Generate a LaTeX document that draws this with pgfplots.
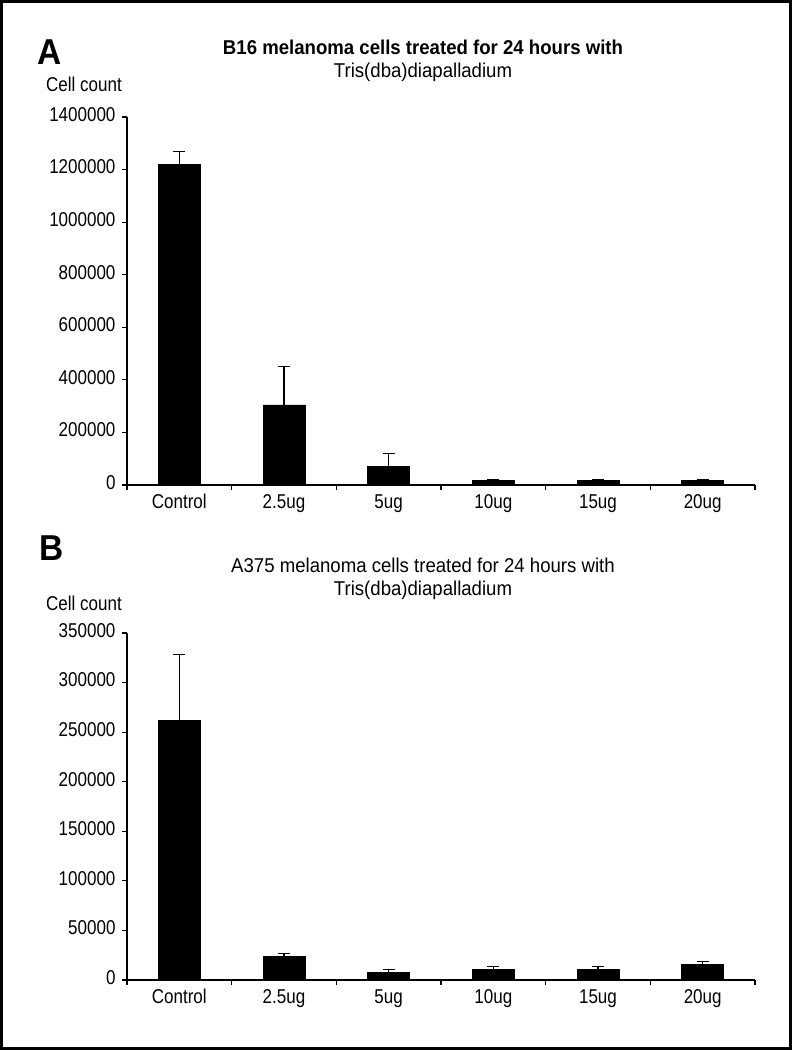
\documentclass[border=0pt]{standalone}
\usepackage{fontspec}
\setmainfont[FakeStretch=0.85]{Liberation Sans}
\newfontfamily\titlefont[FakeStretch=0.93]{Liberation Sans}
\usepackage{pgfplots}
\pgfplotsset{compat=1.18}

% shared look of both panels
\pgfplotsset{cellbars/.style={
  scale only axis, width=628pt,
  xmin=-0.5, xmax=5.5, ymin=0,
  axis lines=left, axis line style={-, line width=1.2pt},
  xtick={-0.5,0.5,...,5.5}, xticklabels={},
  extra x ticks={0,1,2,3,4,5},
  extra x tick labels={Control,2.5ug,5ug,10ug,15ug,20ug},
  extra x tick style={major tick length=0pt,
    xticklabel style={yshift=-5pt}},
  typeset ticklabels with strut,
  tick align=outside, major tick length=5pt,
  tick style={black, line width=1.2pt},
  ybar, bar width=42pt,
  ticklabel style={font=\fontsize{20}{22}\selectfont},
  yticklabel style={xshift=-3pt},
  scaled y ticks=false,
  /pgf/number format/fixed,
  /pgf/number format/1000 sep={},
  /pgf/number format/assume math mode=true,
}}
\pgfplotsset{cellplot/.style={
  fill=black, draw=black,
  error bars/.cd, y dir=plus, y explicit,
  error bar style={line width=1.3pt, black},
  error mark options={rotate=90, mark size=6pt, line width=1.3pt, black},
}}

\begin{document}
\begin{tikzpicture}[x=1pt,y=1pt]
\draw[line width=3pt] (1.5,1.5) rectangle (790.5,1048.5);

% Panel A
\node[font=\titlefont\bfseries\fontsize{36}{40}\selectfont] at (50,998) {A};
\node[font=\titlefont\bfseries\fontsize{20}{22}\selectfont] at (423,1003) {B16 melanoma cells treated for 24 hours with};
\node[font=\titlefont\fontsize{20}{22}\selectfont] at (423,978) {Tris(dba)diapalladium};
\node[font=\fontsize{20}{22}\selectfont] at (84,966) {Cell count};
\begin{axis}[cellbars, at={(127pt,565pt)}, anchor=south west,
  height=368pt, ymax=1400000, ytick={0,200000,...,1400000}]
\addplot[cellplot] coordinates {
  (0,1220000) +- (0,48000)
  (1,305000)  +- (0,145000)
  (2,72000)   +- (0,48000)
  (3,19000)   +- (0,0)
  (4,19000)   +- (0,3000)
  (5,19000)   +- (0,2000)
};
\end{axis}

% Panel B
\node[font=\titlefont\bfseries\fontsize{36}{40}\selectfont] at (52,502) {B};
\node[font=\titlefont\fontsize{20}{22}\selectfont] at (423,485) {A375 melanoma cells treated for 24 hours with};
\node[font=\titlefont\fontsize{20}{22}\selectfont] at (423,460) {Tris(dba)diapalladium};
\node[font=\fontsize{20}{22}\selectfont] at (84,447) {Cell count};
\begin{axis}[cellbars, at={(127pt,70pt)}, anchor=south west,
  height=347pt, ymax=350000, ytick={0,50000,...,350000}]
\addplot[cellplot] coordinates {
  (0,262000) +- (0,66000)
  (1,24000)  +- (0,3000)
  (2,8000)   +- (0,2500)
  (3,11000)  +- (0,2500)
  (4,11000)  +- (0,2500)
  (5,16000)  +- (0,2500)
};
\end{axis}
\end{tikzpicture}
\end{document}
